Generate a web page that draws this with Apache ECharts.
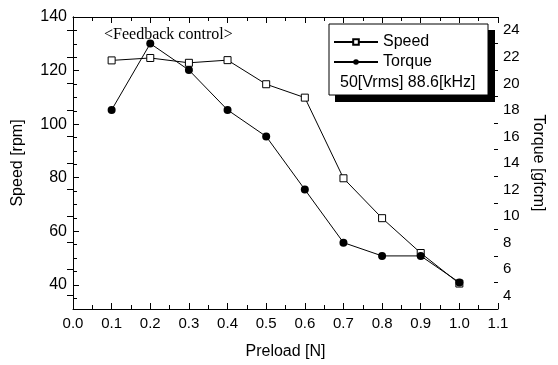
<!DOCTYPE html>
<html>
<head>
<meta charset="utf-8">
<script src="https://cdn.jsdelivr.net/npm/echarts@6/dist/echarts.min.js"></script>
<style>
  html, body {margin: 0; padding: 0; background: #fff;}
  #chart {width: 558px; height: 365px;}
</style>
</head>
<body>
<div id="chart"></div>
<script>
// preload [N] for each measured point
const preload = [0.1, 0.2, 0.3, 0.4, 0.5, 0.6, 0.7, 0.8, 0.9, 1.0];
const speed = [123.8, 124.7, 122.9, 123.9, 114.9, 109.9, 79.8, 64.9, 51.9, 40.5];
const torque = [18, 23, 21, 18, 16, 12, 8, 7, 7, 5];

const speedLabels = [40, 60, 80, 100, 120, 140];
const speedMinor = [35, 45, 50, 55, 65, 70, 75, 85, 90, 95, 105, 110, 115, 125, 130, 135];
const torqueLabels = [4, 6, 8, 10, 12, 14, 16, 18, 20, 22, 24];
const torqueMinor = [5, 7, 9, 11, 13, 15, 17, 19, 21, 23];

const sans = 'Liberation Sans';
const black = '#000';

const myChart = echarts.init(document.getElementById('chart'));

const baseX = {
  type: 'value',
  min: 0,
  max: 1.1,
  interval: 0.1,
  axisLine: {lineStyle: {color: black, width: 1}},
  axisTick: {inside: true, length: 6, lineStyle: {color: black}},
  minorTick: {show: true, splitNumber: 2, length: 4, lineStyle: {color: black}},
  splitLine: {show: false},
};

const baseY = {
  type: 'value',
  splitLine: {show: false},
  axisLine: {show: true, lineStyle: {color: black, width: 1}},
};

myChart.setOption({
  animation: false,
  backgroundColor: '#fff',
  grid: {left: 73, right: 60, top: 17, bottom: 52},
  legend: {
    orient: 'vertical',
    left: 333,
    top: 34,
    padding: 0,
    itemWidth: 44,
    itemHeight: 7,
    itemGap: 4,
    z: 10,
    textStyle: {fontFamily: sans, fontSize: 16, color: black},
    data: ['Speed', 'Torque']
  },
  graphic: [
    {type: 'rect', z: 5, shape: {x: 335, y: 30, width: 160, height: 72}, style: {fill: black}},
    {type: 'rect', z: 6, shape: {x: 329, y: 24, width: 159, height: 71}, style: {fill: '#fff', stroke: black, lineWidth: 1}},
    {type: 'text', z: 7, x: 340, y: 83, style: {text: '50[Vrms] 88.6[kHz]', font: '16px "Liberation Sans"', fill: black, verticalAlign: 'middle'}},
    {type: 'text', z: 7, x: 104, y: 35, style: {text: '<Feedback control>', font: '16px "Liberation Serif"', fill: black, verticalAlign: 'middle'}}
  ],
  xAxis: [
    {
      ...baseX,
      position: 'bottom',
      name: 'Preload [N]',
      nameLocation: 'middle',
      nameGap: 35,
      nameTextStyle: {fontFamily: sans, fontSize: 16, color: black},
      axisLabel: {margin: 7, fontFamily: sans, fontSize: 15, color: black, formatter: v => v.toFixed(1)}
    },
    {...baseX, position: 'top', axisLabel: {show: false}}
  ],
  yAxis: [
    {
      ...baseY,
      position: 'left',
      min: 31,
      max: 140,
      name: 'Speed [rpm]',
      nameLocation: 'middle',
      nameGap: 47,
      nameTextStyle: {fontFamily: sans, fontSize: 16, color: black},
      axisTick: {inside: true, length: 6, customValues: speedLabels, lineStyle: {color: black}},
      axisLabel: {margin: 6, fontFamily: sans, fontSize: 16, color: black, customValues: speedLabels}
    },
    {
      ...baseY,
      position: 'right',
      min: 3,
      max: 25,
      name: 'Torque [gfcm]',
      nameLocation: 'middle',
      nameRotate: -90,
      nameGap: 32,
      nameTextStyle: {fontFamily: sans, fontSize: 16, color: black},
      axisTick: {inside: true, length: 6, customValues: torqueLabels, lineStyle: {color: black}},
      axisLabel: {margin: 5, fontFamily: sans, fontSize: 15, color: black, customValues: torqueLabels}
    },
    {
      ...baseY,
      position: 'left',
      min: 31,
      max: 140,
      axisLine: {show: false},
      axisTick: {inside: true, length: 4, customValues: speedMinor, lineStyle: {color: black}},
      axisLabel: {show: false}
    },
    {
      ...baseY,
      position: 'right',
      min: 3,
      max: 25,
      axisLine: {show: false},
      axisTick: {inside: true, length: 4, customValues: torqueMinor, lineStyle: {color: black}},
      axisLabel: {show: false}
    }
  ],
  series: [
    {
      name: 'Speed',
      type: 'line',
      yAxisIndex: 0,
      symbol: 'rect',
      symbolSize: 7,
      itemStyle: {color: '#fff', borderColor: black, borderWidth: 1},
      data: preload.map((x, i) => [x, speed[i]])
    },
    {
      name: 'Torque',
      type: 'line',
      yAxisIndex: 1,
      symbol: 'circle',
      symbolSize: 8,
      itemStyle: {color: black},
      data: preload.map((x, i) => [x, torque[i]])
    }
  ].map(obj => ({
    ...obj,
    showAllSymbol: true,
    lineStyle: {color: black, width: 1}
  }))
});
</script>
</body>
</html>
